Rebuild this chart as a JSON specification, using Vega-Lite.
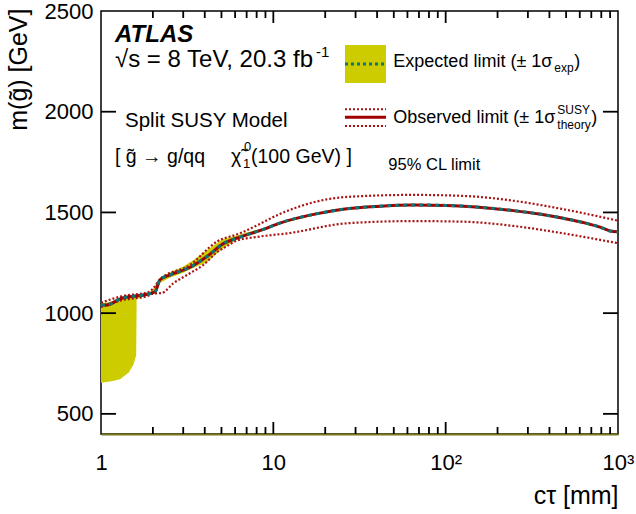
{
  "$schema": "https://vega.github.io/schema/vega-lite/v6.json",
  "width": 517,
  "height": 423,
  "autosize": "none",
  "padding": {"left": 101, "top": 11, "right": 18, "bottom": 80},
  "background": "white",
  "config": {
    "font": "Liberation Sans",
    "view": {"stroke": "black", "strokeWidth": 1.5},
    "axis": {"grid": false, "labelColor": "black", "titleColor": "black", "domainColor": "black"}
  },
  "datasets": {
    "observed": [
      {"ct": 1.0, "m": 1040}, {"ct": 1.07, "m": 1040}, {"ct": 1.32, "m": 1074}, {"ct": 1.88, "m": 1095},
      {"ct": 2.06, "m": 1106}, {"ct": 2.2, "m": 1166}, {"ct": 2.5, "m": 1189}, {"ct": 3.29, "m": 1228},
      {"ct": 4.1, "m": 1280}, {"ct": 5.13, "m": 1345}, {"ct": 6.13, "m": 1372}, {"ct": 8.75, "m": 1416},
      {"ct": 10.9, "m": 1447}, {"ct": 18, "m": 1494}, {"ct": 26.7, "m": 1518}, {"ct": 40, "m": 1530},
      {"ct": 65, "m": 1537}, {"ct": 101, "m": 1535}, {"ct": 150, "m": 1527}, {"ct": 247, "m": 1509},
      {"ct": 350, "m": 1492}, {"ct": 482, "m": 1471}, {"ct": 650, "m": 1447}, {"ct": 823, "m": 1421},
      {"ct": 900, "m": 1408}, {"ct": 1000, "m": 1404}
    ],
    "theory": [
      {"ct": 1.0, "m": 1052, "side": "up"}, {"ct": 1.32, "m": 1084, "side": "up"}, {"ct": 1.88, "m": 1104, "side": "up"},
      {"ct": 2.01, "m": 1123, "side": "up"}, {"ct": 2.2, "m": 1168, "side": "up"}, {"ct": 3.28, "m": 1239, "side": "up"},
      {"ct": 4.7, "m": 1355, "side": "up"}, {"ct": 6.4, "m": 1396, "side": "up"}, {"ct": 8.0, "m": 1435, "side": "up"},
      {"ct": 10.9, "m": 1492, "side": "up"}, {"ct": 26.7, "m": 1577, "side": "up"}, {"ct": 65, "m": 1587, "side": "up"},
      {"ct": 127, "m": 1582, "side": "up"}, {"ct": 247, "m": 1558, "side": "up"}, {"ct": 482, "m": 1516, "side": "up"},
      {"ct": 1000, "m": 1459, "side": "up"},
      {"ct": 1.0, "m": 1030, "side": "down"}, {"ct": 1.32, "m": 1064, "side": "down"}, {"ct": 1.88, "m": 1086, "side": "down"},
      {"ct": 2.0, "m": 1097, "side": "down"}, {"ct": 2.25, "m": 1100, "side": "down"}, {"ct": 2.63, "m": 1148, "side": "down"},
      {"ct": 3.28, "m": 1198, "side": "down"}, {"ct": 3.92, "m": 1239, "side": "down"}, {"ct": 4.7, "m": 1302, "side": "down"},
      {"ct": 5.36, "m": 1332, "side": "down"}, {"ct": 6.13, "m": 1360, "side": "down"}, {"ct": 8.0, "m": 1378, "side": "down"},
      {"ct": 12.5, "m": 1398, "side": "down"}, {"ct": 26.7, "m": 1446, "side": "down"}, {"ct": 65, "m": 1457, "side": "down"},
      {"ct": 127, "m": 1454, "side": "down"}, {"ct": 247, "m": 1433, "side": "down"}, {"ct": 482, "m": 1396, "side": "down"},
      {"ct": 1000, "m": 1347, "side": "down"}
    ],
    "band": [
      {"ct": 1.0, "lo": 655, "hi": 1048}, {"ct": 1.15, "lo": 662, "hi": 1058}, {"ct": 1.29, "lo": 672, "hi": 1075},
      {"ct": 1.45, "lo": 705, "hi": 1082}, {"ct": 1.54, "lo": 743, "hi": 1086}, {"ct": 1.6, "lo": 790, "hi": 1088},
      {"ct": 1.61, "lo": 1070, "hi": 1090}, {"ct": 1.9, "lo": 1090, "hi": 1100}, {"ct": 2.0, "lo": 1096, "hi": 1118},
      {"ct": 2.1, "lo": 1100, "hi": 1150}, {"ct": 2.2, "lo": 1150, "hi": 1176}, {"ct": 2.5, "lo": 1176, "hi": 1200},
      {"ct": 3.0, "lo": 1200, "hi": 1232}, {"ct": 3.5, "lo": 1228, "hi": 1268}, {"ct": 4.1, "lo": 1252, "hi": 1312},
      {"ct": 5.1, "lo": 1322, "hi": 1368}, {"ct": 6.1, "lo": 1362, "hi": 1384}, {"ct": 7.0, "lo": 1385, "hi": 1400},
      {"ct": 8.75, "lo": 1410, "hi": 1422}, {"ct": 10.9, "lo": 1442, "hi": 1452}, {"ct": 18, "lo": 1490, "hi": 1498},
      {"ct": 26.7, "lo": 1514, "hi": 1522}, {"ct": 40, "lo": 1526, "hi": 1534}, {"ct": 65, "lo": 1533, "hi": 1541},
      {"ct": 101, "lo": 1531, "hi": 1539}, {"ct": 150, "lo": 1523, "hi": 1531}, {"ct": 247, "lo": 1505, "hi": 1513},
      {"ct": 350, "lo": 1488, "hi": 1496}, {"ct": 482, "lo": 1467, "hi": 1475}, {"ct": 650, "lo": 1443, "hi": 1451},
      {"ct": 823, "lo": 1417, "hi": 1425}, {"ct": 900, "lo": 1404, "hi": 1412}, {"ct": 1000, "lo": 1400, "hi": 1408}
    ],
    "xmajor": [{"ct": 10}, {"ct": 100}],
    "xminor": [
      {"ct": 2}, {"ct": 3}, {"ct": 4}, {"ct": 5}, {"ct": 6}, {"ct": 7}, {"ct": 8}, {"ct": 9},
      {"ct": 20}, {"ct": 30}, {"ct": 40}, {"ct": 50}, {"ct": 60}, {"ct": 70}, {"ct": 80}, {"ct": 90},
      {"ct": 200}, {"ct": 300}, {"ct": 400}, {"ct": 500}, {"ct": 600}, {"ct": 700}, {"ct": 800}, {"ct": 900}
    ],
    "ymajor": [{"m": 500}, {"m": 1000}, {"m": 1500}, {"m": 2000}]
  },
  "layer": [
    {
      "data": {"name": "band"},
      "mark": {"type": "area", "color": "#cccc00", "interpolate": "linear", "clip": true},
      "encoding": {
        "x": {
          "field": "ct", "type": "quantitative",
          "scale": {"type": "log", "domain": [1, 1000], "nice": false},
          "axis": {
            "orient": "bottom",
            "values": [1, 10, 100, 1000],
            "labelExpr": "datum.value == 1 ? '1' : datum.value == 10 ? '10' : datum.value == 100 ? '10²' : '10³'",
            "ticks": false,
            "tickSize": 0,
            "domain": true,
            "domainColor": "#76761c",
            "domainWidth": 2,
            "labelFontSize": 22,
            "labelPadding": 18,
            "labelFlush": false,
            "labelOverlap": false,
            "labelBound": false,
            "title": "cτ [mm]",
            "titleFontSize": 25,
            "titleFontWeight": "normal",
            "titleAnchor": "end",
            "titleAlign": "right",
            "titleBaseline": "middle",
            "titleX": 517,
            "titleY": 61
          }
        },
        "y": {
          "field": "lo", "type": "quantitative",
          "scale": {"domain": [400, 2500], "nice": false, "zero": false},
          "axis": {
            "orient": "left",
            "values": [500, 1000, 1500, 2000, 2500],
            "format": "d",
            "ticks": false,
            "tickSize": 0,
            "domain": false,
            "labelFontSize": 22,
            "labelPadding": 8,
            "labelFlush": false,
            "labelOverlap": false,
            "labelBound": false,
            "title": "m(g̃) [GeV]",
            "titleFontSize": 25,
            "titleFontWeight": "normal",
            "titleAngle": -90,
            "titleAnchor": "end",
            "titleAlign": "right",
            "titleBaseline": "middle",
            "titleX": -83,
            "titleY": -3
          }
        },
        "y2": {"field": "hi"}
      }
    },
    {
      "data": {"name": "theory"},
      "mark": {"type": "line", "color": "#aa1111", "strokeWidth": 2.2, "strokeDash": [2, 2], "interpolate": "monotone", "clip": true},
      "encoding": {
        "x": {"field": "ct", "type": "quantitative"},
        "y": {"field": "m", "type": "quantitative"},
        "detail": {"field": "side", "type": "nominal"}
      }
    },
    {
      "data": {"name": "observed"},
      "mark": {"type": "line", "color": "#a00000", "strokeWidth": 3, "interpolate": "monotone", "clip": true},
      "encoding": {
        "x": {"field": "ct", "type": "quantitative"},
        "y": {"field": "m", "type": "quantitative"}
      }
    },
    {
      "data": {"name": "observed"},
      "mark": {"type": "line", "color": "#0a7676", "strokeWidth": 3, "strokeDash": [4, 4], "interpolate": "monotone", "clip": true},
      "encoding": {
        "x": {"field": "ct", "type": "quantitative"},
        "y": {"field": "m", "type": "quantitative"}
      }
    },
    {
      "data": {"name": "xmajor"},
      "mark": {"type": "rule", "color": "black", "strokeWidth": 1.8},
      "encoding": {
        "x": {"field": "ct", "type": "quantitative"},
        "y": {"datum": 400, "type": "quantitative"},
        "y2": {"datum": 459.6}
      }
    },
    {
      "data": {"name": "xmajor"},
      "mark": {"type": "rule", "color": "black", "strokeWidth": 1.8},
      "encoding": {
        "x": {"field": "ct", "type": "quantitative"},
        "y": {"datum": 2440.4, "type": "quantitative"},
        "y2": {"datum": 2500}
      }
    },
    {
      "data": {"name": "xminor"},
      "mark": {"type": "rule", "color": "black", "strokeWidth": 1.8},
      "encoding": {
        "x": {"field": "ct", "type": "quantitative"},
        "y": {"datum": 400, "type": "quantitative"},
        "y2": {"datum": 434.8}
      }
    },
    {
      "data": {"name": "xminor"},
      "mark": {"type": "rule", "color": "black", "strokeWidth": 1.8},
      "encoding": {
        "x": {"field": "ct", "type": "quantitative"},
        "y": {"datum": 2465.2, "type": "quantitative"},
        "y2": {"datum": 2500}
      }
    },
    {
      "data": {"name": "ymajor"},
      "mark": {"type": "rule", "color": "black", "strokeWidth": 1.8},
      "encoding": {
        "y": {"field": "m", "type": "quantitative"},
        "x": {"datum": 1, "type": "quantitative"},
        "x2": {"datum": 1.222}
      }
    },
    {
      "data": {"name": "ymajor"},
      "mark": {"type": "rule", "color": "black", "strokeWidth": 1.8},
      "encoding": {
        "y": {"field": "m", "type": "quantitative"},
        "x": {"datum": 818.5, "type": "quantitative"},
        "x2": {"datum": 1000}
      }
    },
    {
      "data": {"values": [{}]},
      "mark": {"type": "rect", "color": "#cccc00"},
      "encoding": {
        "x": {"datum": 26.05, "type": "quantitative"},
        "x2": {"datum": 45.06},
        "y": {"datum": 2331, "type": "quantitative"},
        "y2": {"datum": 2143}
      }
    },
    {
      "data": {"values": [{}]},
      "mark": {"type": "rule", "color": "#0a7676", "strokeWidth": 3, "strokeDash": [3, 3]},
      "encoding": {
        "x": {"datum": 26.05, "type": "quantitative"},
        "x2": {"datum": 45.06},
        "y": {"datum": 2237, "type": "quantitative"}
      }
    },
    {
      "data": {"values": [{}]},
      "mark": {"type": "rule", "color": "#a00000", "strokeWidth": 3},
      "encoding": {
        "x": {"datum": 26.05, "type": "quantitative"},
        "x2": {"datum": 45.06},
        "y": {"datum": 1972, "type": "quantitative"}
      }
    },
    {
      "data": {"values": [{"m": 2012}, {"m": 1929}]},
      "mark": {"type": "rule", "color": "#aa1111", "strokeWidth": 2, "strokeDash": [2, 2]},
      "encoding": {
        "x": {"datum": 26.05, "type": "quantitative"},
        "x2": {"datum": 45.06},
        "y": {"field": "m", "type": "quantitative"}
      }
    },
    {
      "data": {"values": [{}]},
      "mark": {"type": "text", "text": "ATLAS", "fontSize": 24, "fontWeight": "bold", "fontStyle": "italic", "align": "left", "baseline": "alphabetic", "color": "black"},
      "encoding": {"x": {"datum": 1.206, "type": "quantitative"}, "y": {"datum": 2346, "type": "quantitative"}}
    },
    {
      "data": {"values": [{}]},
      "mark": {"type": "text", "text": "√s = 8 TeV, 20.3 fb", "fontSize": 24, "align": "left", "baseline": "alphabetic", "color": "black"},
      "encoding": {"x": {"datum": 1.206, "type": "quantitative"}, "y": {"datum": 2222, "type": "quantitative"}}
    },
    {
      "data": {"values": [{}]},
      "mark": {"type": "text", "text": "-1", "fontSize": 15, "align": "left", "baseline": "alphabetic", "color": "black", "dx": 201, "dy": -10},
      "encoding": {"x": {"datum": 1.206, "type": "quantitative"}, "y": {"datum": 2222, "type": "quantitative"}}
    },
    {
      "data": {"values": [{}]},
      "mark": {"type": "text", "text": "Split SUSY Model", "fontSize": 20.5, "align": "left", "baseline": "alphabetic", "color": "black"},
      "encoding": {"x": {"datum": 1.378, "type": "quantitative"}, "y": {"datum": 1924, "type": "quantitative"}}
    },
    {
      "data": {"values": [{}]},
      "mark": {"type": "text", "text": "[ g̃ → g/qq", "fontSize": 19.5, "align": "left", "baseline": "alphabetic", "color": "black"},
      "encoding": {"x": {"datum": 1.206, "type": "quantitative"}, "y": {"datum": 1745, "type": "quantitative"}}
    },
    {
      "data": {"values": [{}]},
      "mark": {"type": "text", "text": "χ̃", "fontSize": 19.5, "align": "left", "baseline": "alphabetic", "color": "black", "dx": 116},
      "encoding": {"x": {"datum": 1.206, "type": "quantitative"}, "y": {"datum": 1745, "type": "quantitative"}}
    },
    {
      "data": {"values": [{}]},
      "mark": {"type": "text", "text": "0", "fontSize": 13, "align": "left", "baseline": "alphabetic", "color": "black", "dx": 129, "dy": -12},
      "encoding": {"x": {"datum": 1.206, "type": "quantitative"}, "y": {"datum": 1745, "type": "quantitative"}}
    },
    {
      "data": {"values": [{}]},
      "mark": {"type": "text", "text": "1", "fontSize": 13, "align": "left", "baseline": "alphabetic", "color": "black", "dx": 128, "dy": 5},
      "encoding": {"x": {"datum": 1.206, "type": "quantitative"}, "y": {"datum": 1745, "type": "quantitative"}}
    },
    {
      "data": {"values": [{}]},
      "mark": {"type": "text", "text": "(100 GeV) ]", "fontSize": 19.5, "align": "left", "baseline": "alphabetic", "color": "black", "dx": 136},
      "encoding": {"x": {"datum": 1.206, "type": "quantitative"}, "y": {"datum": 1745, "type": "quantitative"}}
    },
    {
      "data": {"values": [{}]},
      "mark": {"type": "text", "text": "Expected limit (± 1σ", "fontSize": 18, "align": "left", "baseline": "alphabetic", "color": "black"},
      "encoding": {"x": {"datum": 49.7, "type": "quantitative"}, "y": {"datum": 2220, "type": "quantitative"}}
    },
    {
      "data": {"values": [{}]},
      "mark": {"type": "text", "text": "exp", "fontSize": 12, "align": "left", "baseline": "alphabetic", "color": "black", "dx": 161, "dy": 5},
      "encoding": {"x": {"datum": 49.7, "type": "quantitative"}, "y": {"datum": 2220, "type": "quantitative"}}
    },
    {
      "data": {"values": [{}]},
      "mark": {"type": "text", "text": ")", "fontSize": 18, "align": "left", "baseline": "alphabetic", "color": "black", "dx": 181},
      "encoding": {"x": {"datum": 49.7, "type": "quantitative"}, "y": {"datum": 2220, "type": "quantitative"}}
    },
    {
      "data": {"values": [{}]},
      "mark": {"type": "text", "text": "Observed limit (± 1σ", "fontSize": 18, "align": "left", "baseline": "alphabetic", "color": "black"},
      "encoding": {"x": {"datum": 49.7, "type": "quantitative"}, "y": {"datum": 1942, "type": "quantitative"}}
    },
    {
      "data": {"values": [{}]},
      "mark": {"type": "text", "text": "SUSY", "fontSize": 12, "align": "left", "baseline": "alphabetic", "color": "black", "dx": 164, "dy": -9},
      "encoding": {"x": {"datum": 49.7, "type": "quantitative"}, "y": {"datum": 1942, "type": "quantitative"}}
    },
    {
      "data": {"values": [{}]},
      "mark": {"type": "text", "text": "theory", "fontSize": 12, "align": "left", "baseline": "alphabetic", "color": "black", "dx": 164, "dy": 6},
      "encoding": {"x": {"datum": 49.7, "type": "quantitative"}, "y": {"datum": 1942, "type": "quantitative"}}
    },
    {
      "data": {"values": [{}]},
      "mark": {"type": "text", "text": ")", "fontSize": 18, "align": "left", "baseline": "alphabetic", "color": "black", "dx": 198},
      "encoding": {"x": {"datum": 49.7, "type": "quantitative"}, "y": {"datum": 1942, "type": "quantitative"}}
    },
    {
      "data": {"values": [{}]},
      "mark": {"type": "text", "text": "95% CL limit", "fontSize": 16.5, "align": "left", "baseline": "alphabetic", "color": "black"},
      "encoding": {"x": {"datum": 46.5, "type": "quantitative"}, "y": {"datum": 1711, "type": "quantitative"}}
    }
  ]
}
